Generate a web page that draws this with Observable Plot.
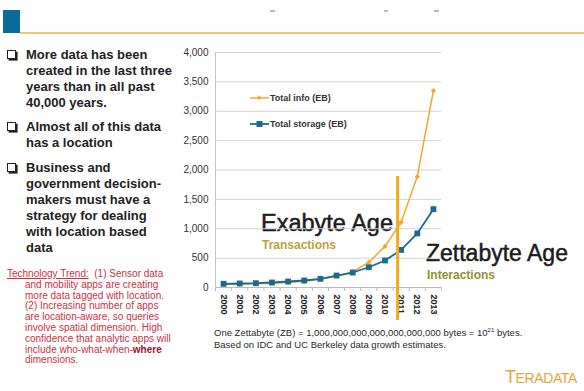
<!DOCTYPE html>
<html>
<head>
<meta charset="utf-8">
<script src="https://cdn.jsdelivr.net/npm/d3@7"></script>
<script src="https://cdn.jsdelivr.net/npm/@observablehq/plot@0.6"></script>
<style>
  html, body { margin: 0; padding: 0; background: #fff; }
  #slide { position: relative; width: 584px; height: 391px; overflow: hidden; background: #fff;
           font-family: "Liberation Sans", Arial, sans-serif; }
  .abs { position: absolute; }
  .bullet { position: absolute; left: 26px; font-size: 13px; font-weight: bold; line-height: 16px; color: #222; white-space: nowrap; }
  .box { position: absolute; left: 7px; width: 7px; height: 7px; border: 1.2px solid #222; box-shadow: 1.6px 1.6px 0 #222; background: #fff; }
  #trend { left: 7px; top: 269px; font-size: 10px; line-height: 10.8px; color: #cc2f42; white-space: nowrap;
           padding-left: 18px; text-indent: -18px; }
  #trend u { text-decoration: underline; }
  #trend b { color: #a30f22; }
  #chart { left: 180px; top: 40px; }
  .ann { position: absolute; white-space: nowrap; }
  .big { -webkit-text-stroke: 0.5px #1c1c1c; color: #1c1c1c; }
  #caption { left: 214px; top: 327px; font-size: 9.5px; line-height: 12px; color: #2a2a2a; white-space: nowrap; }
  #caption sup { font-size: 6px; vertical-align: 4px; line-height: 0; }
  #legend { left: 250px; top: 90px; font-size: 9px; font-weight: bold; color: #333; }
  #logo { left: 505px; top: 367px; color: #e8a43a; font-size: 14px; letter-spacing: -0.4px; white-space: nowrap; }
</style>
</head>
<body>
<div id="slide">
  <div class="abs" style="left:3px;top:10px;width:17px;height:23px;background:#0b6a9c;"></div>
  <div class="abs" style="left:20px;top:32px;width:564px;height:2px;background:#efc870;"></div>
  <div class="abs" style="left:270px;top:10px;width:5px;height:1.5px;background:#bbb;"></div>
  <div class="abs" style="left:384px;top:10px;width:4px;height:1.5px;background:#bbb;"></div>
  <div class="abs" style="left:434px;top:10px;width:5px;height:1.5px;background:#bbb;"></div>

  <div class="box" style="top:50px;"></div>
  <div class="bullet" style="top:47px;">More data has been<br>created in the last three<br>years than in all past<br>40,000 years.</div>
  <div class="box" style="top:122px;"></div>
  <div class="bullet" style="top:119px;">Almost all of this data<br>has a location</div>
  <div class="box" style="top:163px;"></div>
  <div class="bullet" style="top:160px;">Business and<br>government decision-<br>makers must have a<br>strategy for dealing<br>with location based<br>data</div>

  <div id="trend" class="abs"><u>Technology Trend:</u>&nbsp; (1) Sensor data<br>and mobility apps are creating<br>more data tagged with location.<br>(2) Increasing number of apps<br>are location-aware, so queries<br>involve spatial dimension. High<br>confidence that analytic apps will<br>include who-what-when-<b>where</b><br>dimensions.</div>

  <div class="ann big" style="left:261px;top:210px;font-size:23.5px;">Exabyte Age</div>
  <div class="ann" style="left:262px;top:238px;font-size:12px;font-weight:bold;color:#bda23c;">Transactions</div>
  <div class="ann big" style="left:426px;top:240px;font-size:23px;">Zettabyte Age</div>
  <div class="ann" style="left:427px;top:268px;font-size:12px;font-weight:bold;color:#909330;">Interactions</div>

  <div id="chart" class="abs"></div>

  <div id="legend" class="abs"></div>

  <div id="caption" class="abs">One Zettabyte (ZB) = 1,000,000,000,000,000,000,000 bytes = 10<sup>21</sup> bytes.<br>Based on IDC and UC Berkeley data growth estimates.</div>

  <div id="logo" class="abs"><span style="font-size:18px;">T</span>ERADATA</div>
</div>
<script>
// ---- data ----
const years = [2000, 2001, 2002, 2003, 2004, 2005, 2006, 2007, 2008, 2009, 2010, 2011, 2012, 2013];
const totalInfo = [50, 55, 62, 72, 85, 105, 140, 190, 265, 430, 700, 1110, 1890, 3350];
const totalStorage = [63, 68, 73, 85, 102, 119, 148, 204, 255, 345, 460, 640, 920, 1333];
const yTicks = [0, 500, 1000, 1500, 2000, 2500, 3000, 3500, 4000];
const seriesNames = ["Total info (EB)", "Total storage (EB)"];
const ageDivider = 2010.78;

const orange = "#f0a830";
const blue = "#1b6a8f";

const data = years.map((year, i) => ({year, info: totalInfo[i], storage: totalStorage[i]}));
const boundaries = d3.range(years[0] - 0.5, years[years.length - 1] + 1, 1);

const chart = Plot.plot({
  width: 270,
  height: 285,
  marginLeft: 35,
  marginRight: 9,
  marginTop: 12,
  marginBottom: 38,
  style: {fontFamily: "Liberation Sans, Arial, sans-serif", overflow: "visible", background: "transparent"},
  x: {domain: [years[0] - 0.5, years[years.length - 1] + 0.5]},
  y: {domain: [0, 4000]},
  marks: [
    Plot.gridY(yTicks, {stroke: "#d2d2d2", strokeOpacity: 1}),
    Plot.ruleX([years[0] - 0.5], {y1: 0, y2: 4000, stroke: "#c4c4c4"}),
    Plot.axisY(yTicks, {tickFormat: d3.format(","), tickSize: 0, tickPadding: 7, fontSize: 10, fill: "#333", label: null}),
    Plot.axisX(boundaries, {tickFormat: () => "", tickSize: 4, stroke: "#bbb", label: null}),
    Plot.axisX(years, {tickFormat: d => String(d), tickSize: 0, tickRotate: 90, tickPadding: 7, fontSize: 9, fontWeight: "bold", fill: "#222", label: null}),
    Plot.ruleY([0], {stroke: "#bbb"}),
    Plot.line(data, {x: "year", y: "info", stroke: orange, strokeWidth: 1.5}),
    Plot.dot(data, {x: "year", y: "info", symbol: "diamond2", r: 2.4, fill: orange}),
    Plot.line(data, {x: "year", y: "storage", stroke: blue, strokeWidth: 1.8}),
    Plot.dot(data, {x: "year", y: "storage", symbol: "square", r: 3.3, fill: blue}),
    Plot.ruleX([ageDivider], {y1: 1889, y2: -562, stroke: "#f2ab1e", strokeWidth: 3})
  ]
});
document.getElementById("chart").appendChild(chart);

// legend
const legend = document.getElementById("legend");
legend.innerHTML = `
<div style="display:flex;align-items:center;height:14px;margin-top:1px;">
  <svg width="19" height="8" style="margin-right:1px"><line x1="0" y1="4" x2="19" y2="4" stroke="${orange}" stroke-width="1.5"/><rect x="7.5" y="2" width="3.4" height="3.4" transform="rotate(45 9.2 3.7)" fill="${orange}"/></svg>
  <span>${seriesNames[0]}</span></div>
<div style="display:flex;align-items:center;height:14px;margin-top:12px;">
  <svg width="19" height="8" style="margin-right:1px"><line x1="0" y1="4" x2="19" y2="4" stroke="${blue}" stroke-width="1.8"/><rect x="6.5" y="1" width="6" height="6" fill="${blue}"/></svg>
  <span>${seriesNames[1]}</span></div>`;
</script>
</body>
</html>
